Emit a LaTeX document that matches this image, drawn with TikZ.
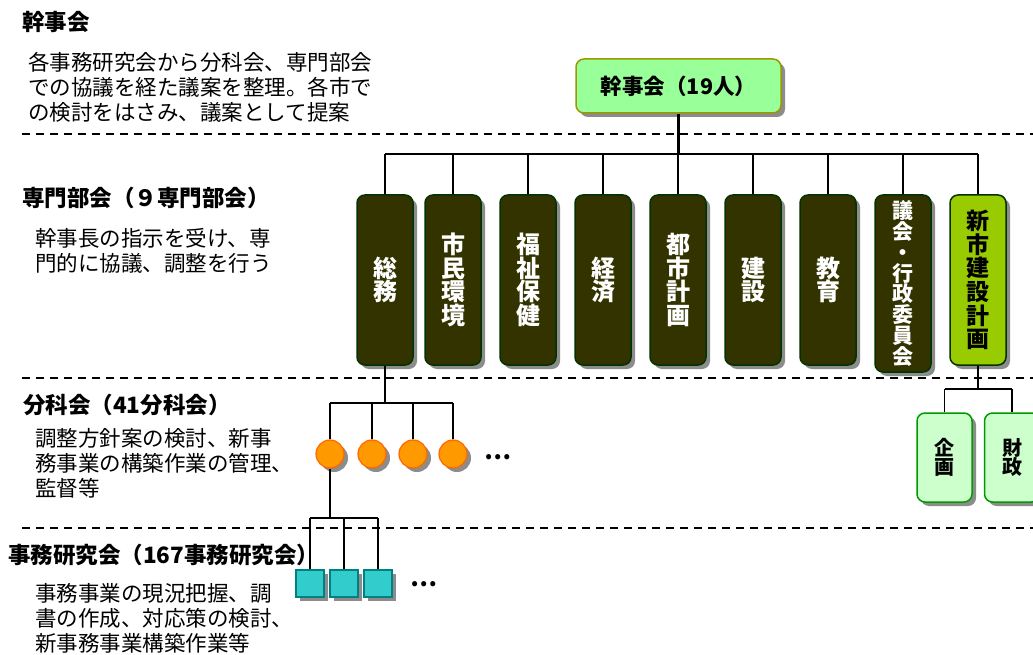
\documentclass[tikz,border=0pt]{standalone}
\usepackage{fontspec}
\newfontfamily\jp{Noto Sans CJK JP}
\usetikzlibrary{shadows}
\definecolor{topfill}{HTML}{99FF99}
\definecolor{topborder}{HTML}{999900}
\definecolor{darkfill}{HTML}{333300}
\definecolor{darkborder}{HTML}{003300}
\definecolor{limefill}{HTML}{99CC00}
\definecolor{palefill}{HTML}{CCFFCC}
\definecolor{paleborder}{HTML}{009900}
\definecolor{orfill}{HTML}{FF9900}
\definecolor{orborder}{HTML}{FF6600}
\definecolor{tealfill}{HTML}{33CCCC}
\definecolor{tealborder}{HTML}{008080}
\definecolor{shadowgray}{HTML}{8C8C8C}
\begin{document}
\begin{tikzpicture}[x=1pt,y=-1pt,
  shad/.style={drop shadow={shadow xshift=4pt,shadow yshift=-4pt,fill=shadowgray,opacity=1}},
  topbox/.style={shad,draw=topborder,fill=topfill,line width=1.5pt,rounded corners=8pt,
    minimum width=205pt,minimum height=54pt,inner sep=0pt,font=\jp\bfseries\fontsize{21.5}{24}\selectfont},
  dept/.style={shad,draw=darkborder,fill=darkfill,line width=1.5pt,rounded corners=8pt,
    minimum width=56pt,minimum height=170pt,inner sep=0pt,text=white,align=center,
    font=\jp\bfseries\fontsize{24}{23.5}\selectfont},
  newdept/.style={dept,fill=limefill,text=black,font=\jp\bfseries\fontsize{23}{23.7}\selectfont},
  subdept/.style={shad,draw=paleborder,fill=palefill,line width=1.5pt,rounded corners=8pt,
    minimum width=55pt,minimum height=89pt,inner sep=0pt,align=center,
    font=\jp\bfseries\fontsize{20}{19.5}\selectfont},
  bunka/.style={shad,circle,draw=orborder,fill=orfill,line width=1.2pt,minimum size=28pt,inner sep=0pt},
  jimu/.style={shad,rectangle,draw=tealborder,fill=tealfill,line width=1.2pt,minimum width=28pt,minimum height=27pt,inner sep=0pt},
  head/.style={anchor=west,inner sep=0pt,font=\jp\bfseries\fontsize{22.5}{25}\selectfont},
  desc/.style={anchor=west,inner sep=0pt,align=left,font=\jp\fontsize{21.5}{25}\selectfont},
  dots/.style={inner sep=0pt,font=\jp\bfseries\fontsize{24}{24}\selectfont},
  sep/.style={dashed,dash pattern=on 8pt off 6pt,line width=1.5pt},
  conn/.style={line width=1.5pt},
  trunk/.style={line width=2.2pt}
]
\useasboundingbox (0,0) rectangle (1033,655);
\clip (0,0) rectangle (1033,655);
\fill[white] (0,0) rectangle (1033,655);

% separators
\draw[sep] (22,134) -- (1040,134);
\draw[sep] (22,378) -- (1040,378);
\draw[sep] (22,528) -- (1040,528);

% left texts
\node[head] (h1) at (22,22) {幹事会};
\node[desc] (d1) at (28,87) {各事務研究会から分科会、専門部会\\での協議を経た議案を整理。各市で\\の検討をはさみ、議案として提案};
\node[head] (h2) at (22,198) {専門部会（９専門部会）};
\node[desc] (d2) at (35,250.5) {幹事長の指示を受け、専\\門的に協議、調整を行う};
\node[head] (h3) at (23,405) {分科会（41分科会）};
\node[desc] (d3) at (35,463) {調整方針案の検討、新事\\務事業の構築作業の管理、\\監督等};
\node[head] (h4) at (8,555) {事務研究会（167事務研究会）};
\node[desc] (d4) at (35,618) {事務事業の現況把握、調\\書の作成、対応策の検討、\\新事務事業構築作業等};

% top box
\node[topbox] (top) at (678.5,86) {幹事会（19人）};

% departments
\node[dept] (b1) at (385,280) {総\\務};
\node[dept] (b2) at (453,280) {市\\民\\環\\境};
\node[dept] (b3) at (528,280) {福\\祉\\保\\健};
\node[dept] (b4) at (603,280) {経\\済};
\node[dept] (b5) at (678,280) {都\\市\\計\\画};
\node[dept] (b6) at (753,280) {建\\設};
\node[dept] (b7) at (828,280) {教\\育};
\node[dept,minimum height=177pt,font=\jp\bfseries\fontsize{21}{20.8}\selectfont] (b8) at (903,283.5) {議\\会\\・\\行\\政\\委\\員\\会};
\node[newdept] (b9) at (978,280) {新\\市\\建\\設\\計\\画};

% bus under top
\coordinate (bus) at (0,154);
\draw[trunk] (top.south) -- (top.south |- bus);
\draw[trunk] (b1.north |- bus) -- (b9.north |- bus);
\foreach \b in {b1,b2,b3,b4,b5,b6,b7,b8,b9}
  \draw[conn] (\b.north) -- (\b.north |- bus);

% bunkakai
\node[bunka] (c1) at (330,454) {};
\node[bunka] (c2) at (372,454) {};
\node[bunka] (c3) at (413,454) {};
\node[bunka] (c4) at (453,454) {};
\node[dots] (cdots) at (498,457) {…};
\coordinate (cbus) at (0,403);
\draw[trunk] (b1.south) -- (b1.south |- cbus);
\draw[conn] (c1.north |- cbus) -- (c4.north |- cbus);
\foreach \c in {c1,c2,c3,c4}
  \draw[conn] (\c.north) -- (\c.north |- cbus);

% jimu kenkyukai
\node[jimu] (s1) at (310,583.5) {};
\node[jimu] (s2) at (344,583.5) {};
\node[jimu] (s3) at (378,583.5) {};
\node[dots] (sdots) at (424,584) {…};
\coordinate (sbus) at (0,518);
\draw[trunk] (c1.south) -- (c1.south |- sbus);
\draw[conn] (s1.north |- sbus) -- (s3.north |- sbus);
\foreach \s in {s1,s2,s3}
  \draw[conn] (\s.north) -- (\s.north |- sbus);

% shinshi kensetsu keikaku sub
\node[subdept] (k1) at (944.5,457.5) {企\\画};
\node[subdept] (k2) at (1012,457.5) {財\\政};
\coordinate (kbus) at (0,389);
\draw[trunk] (b9.south) -- (b9.south |- kbus);
\draw[conn] (k1.north |- kbus) -- (k2.north |- kbus);
\foreach \k in {k1,k2}
  \draw[conn] (\k.north) -- (\k.north |- kbus);
\end{tikzpicture}
\end{document}
